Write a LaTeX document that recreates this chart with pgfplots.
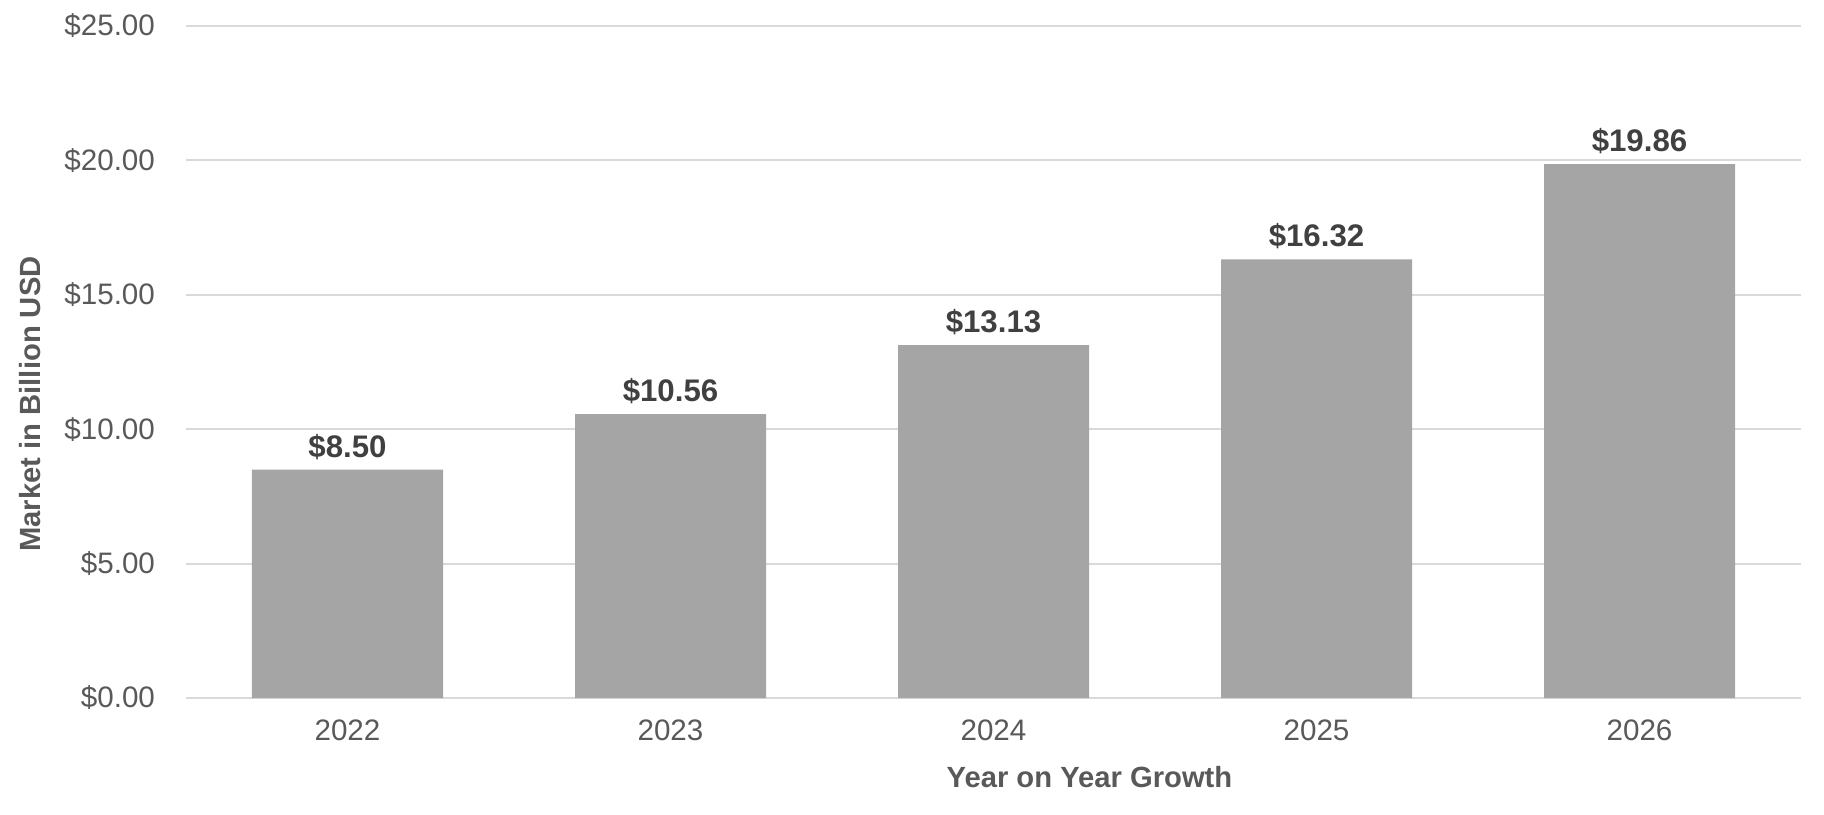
\documentclass[border=0pt]{standalone}
\usepackage{fontspec}
\setmainfont{Liberation Sans}
\usepackage{pgfplots}
\pgfplotsset{compat=1.18}
\definecolor{barcol}{HTML}{A5A5A5}
\definecolor{gridcol}{HTML}{D9D9D9}
\definecolor{ticktxt}{HTML}{595959}
\definecolor{boldtxt}{HTML}{404040}

\begin{document}
\begin{tikzpicture}
\useasboundingbox (-93pt,-58pt) rectangle (819pt,349pt);
\begin{axis}[
    at={(0,0)}, anchor=south west,
    scale only axis, width=807.5pt, height=336pt,
    ybar, bar width=95.5pt,
    xmin=-0.5, xmax=4.5, ymin=0, ymax=25,
    xtick=data, xticklabels={2022,2023,2024,2025,2026},
    ytick={0,5,10,15,20,25},
    /pgf/number format/assume math mode=true,
    yticklabel={\$\pgfmathprintnumber[fixed,fixed zerofill,precision=2]{\tick}},
    tick label style={font=\fontsize{14.8}{18}\selectfont, text=ticktxt},
    yticklabel style={xshift=-12pt},
    xticklabel style={yshift=-7.5pt},
    major tick length=0pt,
    ymajorgrids, grid style={gridcol, line width=0.9pt},
    axis x line*=bottom, axis y line*=left,
    x axis line style={gridcol, line width=0.9pt, -},
    y axis line style={draw=none},
    xlabel={Year on Year Growth},
    ylabel={Market in Billion USD},
    label style={font=\bfseries\fontsize{14.6}{18}\selectfont, text=ticktxt},
    xlabel style={yshift=-5.8pt, xshift=48pt},
    ylabel style={yshift=5pt, xshift=-21pt},
    nodes near coords={\$\pgfmathprintnumber[fixed,fixed zerofill,precision=2]{\pgfplotspointmeta}},
    nodes near coords style={font=\bfseries\fontsize{15.6}{19}\selectfont, text=boldtxt, yshift=1.5pt},
]
\addplot[fill=barcol, draw=none] coordinates {(0,8.50) (1,10.56) (2,13.13) (3,16.32) (4,19.86)};
\end{axis}
\end{tikzpicture}
\end{document}
